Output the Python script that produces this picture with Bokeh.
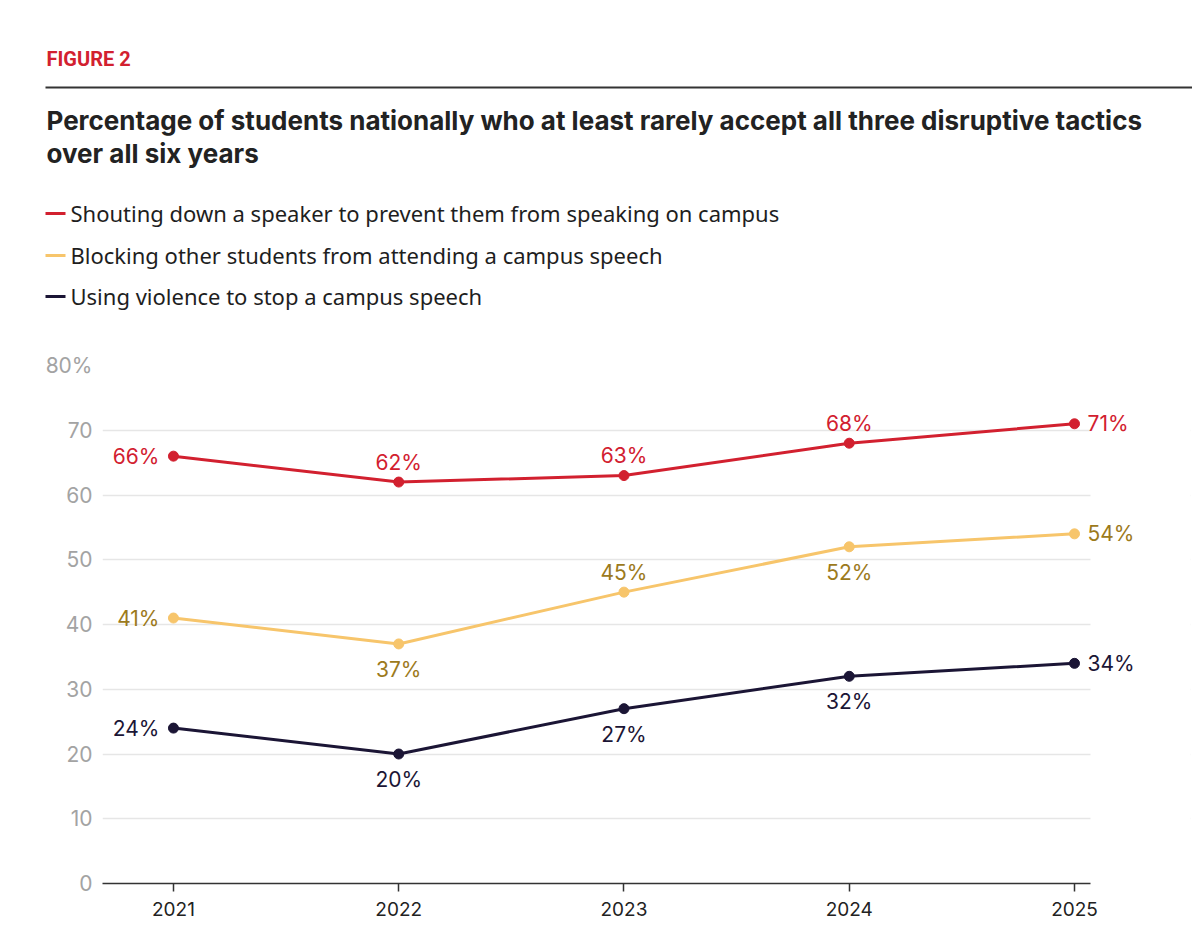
from bokeh.plotting import figure
from bokeh.layouts import column
from bokeh.models import Range1d, FixedTicker, ColumnDataSource, BoxAnnotation
from bokeh.core.properties import value
from bokeh.embed import file_html
from bokeh.resources import INLINE

# ---- data ----
years = [2021, 2022, 2023, 2024, 2025]
shouting = [66, 62, 63, 68, 71]
blocking = [41, 37, 45, 52, 54]
violence = [24, 20, 27, 32, 34]
series_names = [
    "Shouting down a speaker to prevent them from speaking on campus",
    "Blocking other students from attending a campus speech",
    "Using violence to stop a campus speech",
]
y_ticks = [0, 10, 20, 30, 40, 50, 60, 70, 80]
y_tick_labels = ["0", "10", "20", "30", "40", "50", "60", "70", "80%"]
x_tick_labels = ["2021", "2022", "2023", "2024", "2025"]
fig_label = "FIGURE 2"
title_lines = [
    "Percentage of students nationally who at least rarely accept all three disruptive tactics",
    "over all six years",
]

# ---- styles ----
line_colors = ["#d2202f", "#f7c56b", "#1b1535"]
text_colors = ["#d2202f", "#9c7a1c", "#1b1535"]
label_pos = [
    ["left", "above", "above", "above", "right"],
    ["left", "below", "above", "below", "right"],
    ["left", "below", "below", "below", "right"],
]
NUM_FONT = "Inter"
W = 1192
HEADER_H = 345

# ---- header figure (pixel coordinates, y down) ----
h = figure(width=W, height=HEADER_H, x_range=Range1d(0, W), y_range=Range1d(HEADER_H, 0),
           x_axis_type=None, y_axis_type=None, min_border=0, toolbar_location=None,
           output_backend="svg", outline_line_color=None)
h.grid.visible = False
h.text(x=[46], y=[58], text=[fig_label], text_font=value("Roboto"), text_font_style="bold",
       text_font_size="20px", text_color="#d2202f", text_baseline="middle")
h.segment(x0=[45], y0=[87], x1=[W], y1=[87], line_color="#333333", line_width=2)
h.text(x=[46, 46], y=[120, 153], text=title_lines, text_font=value("Inter"),
       text_font_style="bold", text_font_size="26px", text_color="#222222",
       text_baseline="middle")
leg_y = [213, 255, 296]
h.segment(x0=[45] * 3, y0=leg_y, x1=[65] * 3, y1=leg_y, line_color=line_colors, line_width=3)
h.text(x=[70] * 3, y=[y - 1 for y in leg_y], text=series_names, text_font=value("Noto Sans"),
       text_font_size="22px", text_color="#1e1e1e", text_baseline="middle")

# ---- chart ----
X0, X_AXIS_END, X1 = 2020.685, 2025.071, 2025.515
p = figure(width=W, height=586, frame_width=1088, frame_height=518,
           x_range=Range1d(X0, X1), y_range=Range1d(0, 80),
           min_border_left=102, min_border_right=2, min_border_top=20, min_border_bottom=48,
           toolbar_location=None, output_backend="svg", outline_line_color=None)

for fig in (h, p):
    if "frame_align" in fig.properties():
        fig.frame_align = False

p.xgrid.visible = False
p.ygrid.grid_line_color = "#e6e6e6"
p.ygrid.grid_line_width = 1.5
p.ygrid.ticker = FixedTicker(ticks=y_ticks)
# mask the grid lines to the right of the axis end (label margin)
p.add_layout(BoxAnnotation(left=X_AXIS_END, fill_color="white", fill_alpha=1,
                           line_color=None, level="underlay"))

p.yaxis.ticker = FixedTicker(ticks=y_ticks)
p.yaxis.major_label_overrides = {t: l for t, l in zip(y_ticks, y_tick_labels)}
p.yaxis.axis_line_color = None
p.yaxis.major_tick_line_color = None
p.yaxis.major_tick_out = 0
p.yaxis.major_tick_in = 0
p.yaxis.minor_tick_line_color = None
p.yaxis.minor_tick_out = 0
p.yaxis.major_label_standoff = 10
p.yaxis.major_label_text_font = NUM_FONT
p.yaxis.major_label_text_font_size = "21px"
p.yaxis.major_label_text_color = "#a3a3a3"

p.xaxis.bounds = (X0, X_AXIS_END)
p.xaxis.ticker = FixedTicker(ticks=years)
p.xaxis.major_label_overrides = {t: l for t, l in zip(years, x_tick_labels)}
p.xaxis.axis_line_color = "#333333"
p.xaxis.axis_line_width = 1.5
p.xaxis.major_tick_line_color = "#333333"
p.xaxis.major_tick_line_width = 1.5
p.xaxis.major_tick_out = 8
p.xaxis.major_tick_in = 0
p.xaxis.minor_tick_line_color = None
p.xaxis.major_label_standoff = 10
p.xaxis.major_label_text_font = NUM_FONT
p.xaxis.major_label_text_font_size = "19px"
p.xaxis.major_label_text_color = "#222222"

offsets = {
    "left": (-14, 0, "right", "middle"),
    "right": (13, 0, "left", "middle"),
    "above": (0, -20, "center", "middle"),
    "below": (0, 13, "center", "top"),
}

for vals, lc, tc, pos in zip([shouting, blocking, violence], line_colors, text_colors, label_pos):
    p.line(years, vals, line_color=lc, line_width=3)
    p.scatter(years, vals, size=10, fill_color=lc, line_color=lc)
    src = ColumnDataSource(dict(
        x=years, y=vals, t=[f"{v}%" for v in vals],
        xo=[offsets[q][0] for q in pos], yo=[offsets[q][1] for q in pos],
        al=[offsets[q][2] for q in pos], bl=[offsets[q][3] for q in pos],
    ))
    p.text(x="x", y="y", text="t", x_offset="xo", y_offset="yo", text_align="al",
           text_baseline="bl", source=src, text_font=value(NUM_FONT),
           text_font_size="21px", text_color=tc)

layout = column(h, p, spacing=0)
open("out.html", "w").write(file_html(layout, INLINE))
